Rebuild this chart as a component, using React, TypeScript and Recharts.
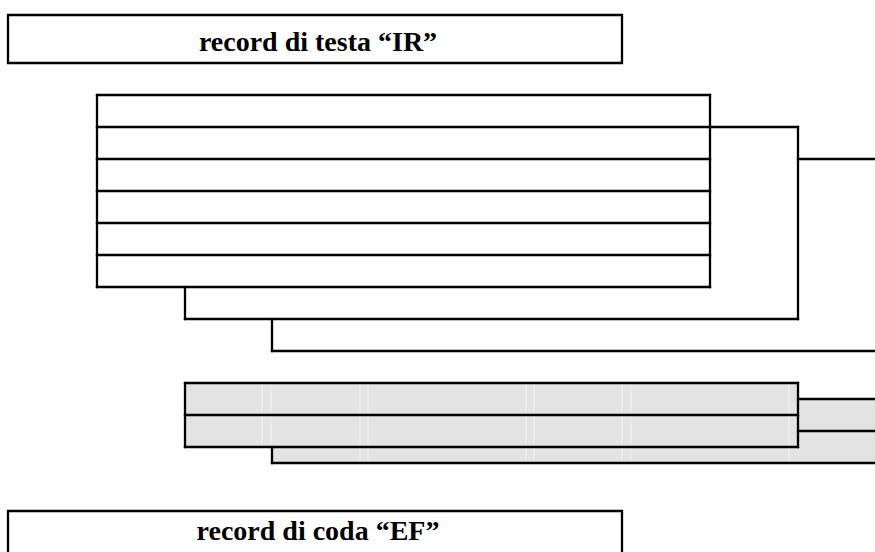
import { ComposedChart, XAxis, YAxis, ReferenceArea, ReferenceLine } from 'recharts';

// Diagram space: x 0..875, y 0..552 (y grows downward)
const recordLabels = ['record di testa “IR”', 'record di coda “EF”'];
const recordLeft = [8, 8];
const recordRight = [622, 622];
const recordTop = [15, 511];
const recordBottom = [63, 561];

// white detail table and the two tables stacked behind it
const detailLeft = [97, 185, 272];
const detailRight = [710, 798, 885];
const detailTop = [95, 127, 159];
const detailBottom = [287, 319, 351];
const detailRowEdges = [127, 159, 191, 223, 255];

// grey table pair
const greyLeft = [185, 272];
const greyRight = [798, 885];
const greyTop = [383, 399];
const greyBottom = [447, 463];
const greyRowEdges = [415, 431];
const greyColumnEdges = [262, 271, 360, 368, 526, 534, 622, 631, 789];

const W = 875;
const H = 552;
const INK = '#000';
const GREY = '#e3e3e3';
const LABEL_BASELINE = [36, 29];
const LABEL_SHIFT = 3;

type Seg = [{ x: number; y: number }, { x: number; y: number }];
const seg = (x1: number, y1: number, x2: number, y2: number): Seg => [
  { x: x1, y: y1 },
  { x: x2, y: y2 },
];

// visible outline of a stack of tables, front one first
const stackOutline = (l: number[], r: number[], t: number[], b: number[]) => {
  const out: Seg[] = [];
  l.forEach((_, i) => {
    if (i === 0) {
      out.push(seg(l[0], t[0], r[0], t[0]));
      out.push(seg(r[0], t[0], r[0], b[0]));
      out.push(seg(l[0], b[0], r[0], b[0]));
      out.push(seg(l[0], t[0], l[0], b[0]));
    } else {
      out.push(seg(r[i - 1], t[i], r[i], t[i]));
      out.push(seg(r[i], t[i], r[i], b[i]));
      out.push(seg(l[i], b[i], r[i], b[i]));
      out.push(seg(l[i], b[i - 1], l[i], b[i]));
    }
  });
  return out;
};

const blackSegs: Seg[] = [
  ...stackOutline(detailLeft, detailRight, detailTop, detailBottom),
  ...detailRowEdges.map(y => seg(detailLeft[0], y, detailRight[0], y)),
  ...stackOutline(greyLeft, greyRight, greyTop, greyBottom),
  seg(greyLeft[0], greyRowEdges[0], greyRight[0], greyRowEdges[0]),
  seg(greyRight[0], greyRowEdges[1], greyRight[1], greyRowEdges[1]),
];

// faint cell borders inside the grey tables
const faintSegs: Seg[] = greyColumnEdges.flatMap(x => {
  const parts: Seg[] = [seg(x, greyTop[0] + 1, x, greyBottom[0] - 1)];
  if (x > greyLeft[1] + 1) parts.push(seg(x, greyBottom[0] + 1, x, greyBottom[1] - 1));
  return parts;
});

const RecordLabel = (idx: number) => (props: any) => {
  const vb = props.viewBox || {};
  return (
    <text
      x={vb.x + vb.width / 2 + LABEL_SHIFT}
      y={vb.y + LABEL_BASELINE[idx]}
      textAnchor="middle"
      fill={INK}
      fontFamily="'Liberation Serif', 'Times New Roman', serif"
      fontWeight="bold"
      fontSize={28}
    >
      {recordLabels[idx]}
    </text>
  );
};

export default function App() {
  return (
    <div style={{ position: 'fixed', left: 0, top: 0, width: W, height: H, background: '#fff' }}>
      <ComposedChart width={W} height={H} data={[]} margin={{ top: 0, right: 0, bottom: 0, left: 0 }}>
        <XAxis type="number" dataKey="x" domain={[0, W]} hide allowDataOverflow />
        <YAxis type="number" domain={[0, H]} reversed hide allowDataOverflow />

        {recordLabels.map((_, i) => (
          <ReferenceArea
            key={'rec' + i}
            x1={recordLeft[i]}
            x2={recordRight[i]}
            y1={recordTop[i]}
            y2={recordBottom[i]}
            fill="#fff"
            fillOpacity={1}
            stroke={INK}
            strokeWidth={2.3}
            ifOverflow="hidden"
            label={RecordLabel(i)}
          />
        ))}

        {greyLeft.map((_, i) => (
          <ReferenceArea
            key={'grey' + i}
            x1={greyLeft[i]}
            x2={greyRight[i]}
            y1={greyTop[i]}
            y2={greyBottom[i]}
            fill={GREY}
            fillOpacity={1}
            stroke="none"
            ifOverflow="hidden"
          />
        ))}

        {faintSegs.map((s, i) => (
          <ReferenceLine key={'f' + i} segment={s} stroke="#f1f1f1" strokeWidth={1} ifOverflow="hidden" />
        ))}

        {blackSegs.map((s, i) => (
          <ReferenceLine
            key={'b' + i}
            segment={s}
            stroke={INK}
            strokeWidth={2.3}
            strokeLinecap="square"
            ifOverflow="hidden"
          />
        ))}
      </ComposedChart>
    </div>
  );
}
